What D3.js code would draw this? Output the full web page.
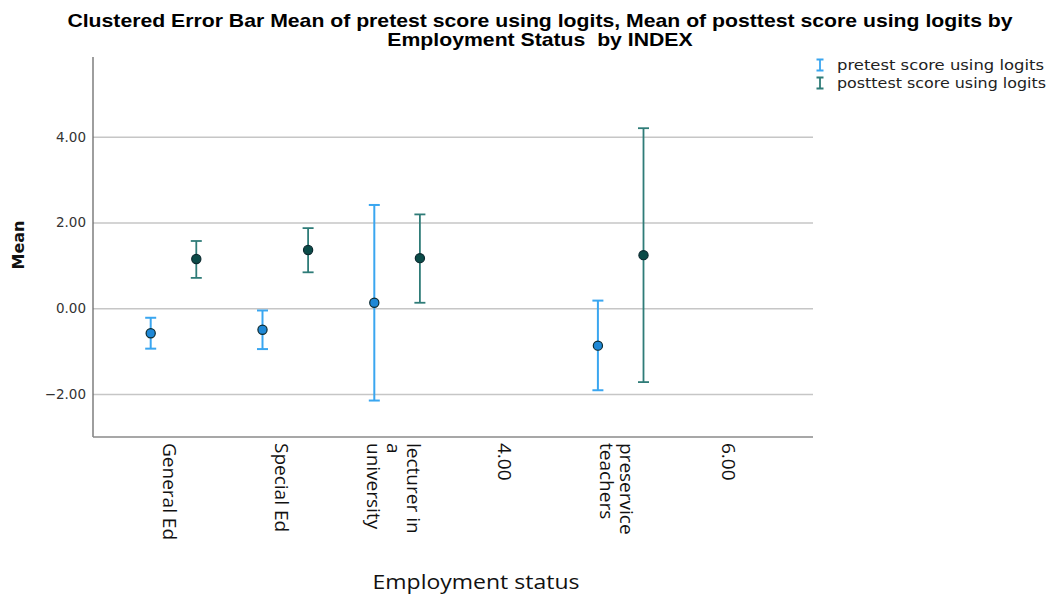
<!DOCTYPE html>
<html>
<head>
<meta charset="utf-8">
<script src="https://cdn.jsdelivr.net/npm/d3@7"></script>
<style>
  body { margin: 0; background: #fff; }
  svg { display: block; }
</style>
</head>
<body>
<svg id="chart"></svg>
<script>
// values
const categories = ["General Ed", "Special Ed", "lecturer in a university", "4.00", "preservice teachers", "6.00"];
const categoryLines = [["General Ed"], ["Special Ed"], ["lecturer in", "a", "university"], ["4.00"], ["preservice", "teachers"], ["6.00"]];
const seriesNames = ["pretest score using logits", "posttest score using logits"];

const preMean = [-0.58, -0.50, 0.13, null, -0.87, null];
const preLow  = [-0.94, -0.95, -2.15, null, -1.91, null];
const preHigh = [-0.22, -0.05, 2.41, null, 0.18, null];

const postMean = [1.15, 1.36, 1.17, null, 1.24, null];
const postLow  = [0.71, 0.84, 0.13, null, -1.72, null];
const postHigh = [1.57, 1.87, 2.19, null, 4.20, null];

const yTicks = [-2, 0, 2, 4];

const W = 1056, H = 595;
const plotL = 93, plotR = 813, plotT = 57, plotB = 437;

const barColor = ["#3aa6f0", "#2f7c78"];
const dotFill = ["#1f88d6", "#0b4b48"];

const svg = d3.select("#chart").attr("width", W).attr("height", H);

let x = d3.scalePoint().domain(categories).range([plotL, plotR]).padding(0.72);
let inner = d3.scaleBand().domain(seriesNames)
  .range([-x.step() / 2, x.step() / 2]).paddingOuter(0.226);
let y = d3.scaleLinear().domain([-3, 5.86]).range([plotB, plotT]);

// gridlines + y tick labels
let yAx = svg.append("g")
  .attr("transform", `translate(${plotL},0)`)
  .call(d3.axisLeft(y).tickValues(yTicks).tickFormat(d3.format(".2f"))
    .tickSize(-(plotR - plotL)).tickPadding(7));
yAx.select(".domain").remove();
yAx.selectAll(".tick line").attr("stroke", "#c6c6c6").attr("stroke-width", 1.5);
yAx.selectAll(".tick text")
  .attr("font-family", "DejaVu Sans").attr("font-size", 13.5).attr("fill", "#333");

// axis lines
svg.append("line").attr("x1", plotL).attr("x2", plotL).attr("y1", plotT).attr("y2", plotB)
  .attr("stroke", "#6a6a6a").attr("stroke-width", 1.3);
svg.append("line").attr("x1", plotL).attr("x2", plotR).attr("y1", plotB).attr("y2", plotB)
  .attr("stroke", "#8a8a8a").attr("stroke-width", 1.5);

// x tick labels, rotated, wrapped like the original
let xAx = svg.append("g")
  .attr("transform", `translate(0,${plotB})`)
  .call(d3.axisBottom(x).tickSize(0).tickFormat(""));
xAx.select(".domain").remove();
xAx.selectAll(".tick text").remove();
xAx.selectAll(".tick").each(function (d, i) {
  let lines = categoryLines[i];
  let t = d3.select(this).append("text")
    .attr("transform", "translate(-4,6) rotate(90)")
    .attr("font-family", "Open Sans").attr("font-size", 19).attr("fill", "#111")
    .attr("text-anchor", "start").attr("dominant-baseline", "central");
  lines.forEach((ln, j) => {
    t.append("tspan").attr("x", 0).attr("y", (j - (lines.length - 1) / 2) * 20).text(ln);
  });
});

// error bars
const allSeries = [
  { name: seriesNames[0], mean: preMean, lo: preLow, hi: preHigh },
  { name: seriesNames[1], mean: postMean, lo: postLow, hi: postHigh }
];
const cap = 5.5;

allSeries.forEach((s, si) => {
  let pts = categories.map((c, i) => ({ c, m: s.mean[i], lo: s.lo[i], hi: s.hi[i] }))
    .filter(d => d.m != null);
  let cx = d => x(d.c) + inner(s.name) + inner.bandwidth() / 2;
  let g = svg.append("g").attr("stroke", barColor[si]).attr("stroke-width", si == 0 ? 2 : 1.8);
  g.selectAll(".stem").data(pts).join("line")
    .attr("x1", cx).attr("x2", cx).attr("y1", d => y(d.lo)).attr("y2", d => y(d.hi));
  g.selectAll(".capHi").data(pts).join("line")
    .attr("x1", d => cx(d) - cap).attr("x2", d => cx(d) + cap)
    .attr("y1", d => y(d.hi)).attr("y2", d => y(d.hi));
  g.selectAll(".capLo").data(pts).join("line")
    .attr("x1", d => cx(d) - cap).attr("x2", d => cx(d) + cap)
    .attr("y1", d => y(d.lo)).attr("y2", d => y(d.lo));
  svg.append("g").selectAll("circle").data(pts).join("circle")
    .attr("cx", cx).attr("cy", d => y(d.m)).attr("r", 4.6)
    .attr("fill", dotFill[si]).attr("stroke", "#0c2a30").attr("stroke-width", 1.2);
});

// title, squeezed to the condensed look of the original
let title = svg.append("g").attr("font-family", "Liberation Sans").attr("font-weight", "bold")
  .attr("font-size", 17.5).attr("fill", "#000").attr("text-anchor", "middle");
let t1 = title.append("text").attr("y", 27)
  .text("Clustered Error Bar Mean of pretest score using logits, Mean of posttest score using logits by");
let t2 = title.append("text").attr("y", 46).attr("xml:space", "preserve").text("Employment Status  by INDEX");
let sx = 946 / t1.node().getComputedTextLength();
t1.attr("transform", `translate(540,0) scale(${sx},1)`);
t2.attr("transform", `translate(540,0) scale(${sx},1)`);

// y title
svg.append("text").attr("transform", "translate(24,245) rotate(-90)")
  .attr("text-anchor", "middle").attr("font-family", "DejaVu Sans").attr("font-weight", "bold")
  .attr("font-size", 16).attr("fill", "#111").text("Mean");

// x title
let xt = svg.append("text").attr("text-anchor", "middle")
  .attr("font-family", "Open Sans").attr("font-size", 20).attr("fill", "#111")
  .text("Employment status");
let xs = 207 / xt.node().getComputedTextLength();
xt.attr("transform", `translate(476,589) scale(${xs},1)`);

// legend
const legendWidths = [207, 209];
let lg = svg.append("g").attr("transform", "translate(820,65)");
seriesNames.forEach((n, i) => {
  let r = lg.append("g").attr("transform", `translate(0,${i * 18})`);
  r.append("path").attr("d", "M-3.5,-5.5H3.5M0,-5.5V5.5M-3.5,5.5H3.5")
    .attr("stroke", barColor[i]).attr("stroke-width", 1.8).attr("fill", "none");
  r.append("text").attr("x", 17).attr("dy", "0.35em")
    .attr("font-family", "DejaVu Sans").attr("font-size", 14.5).attr("fill", "#222")
    .attr("textLength", legendWidths[i]).attr("lengthAdjust", "spacingAndGlyphs").text(n);
});
</script>
</body>
</html>
